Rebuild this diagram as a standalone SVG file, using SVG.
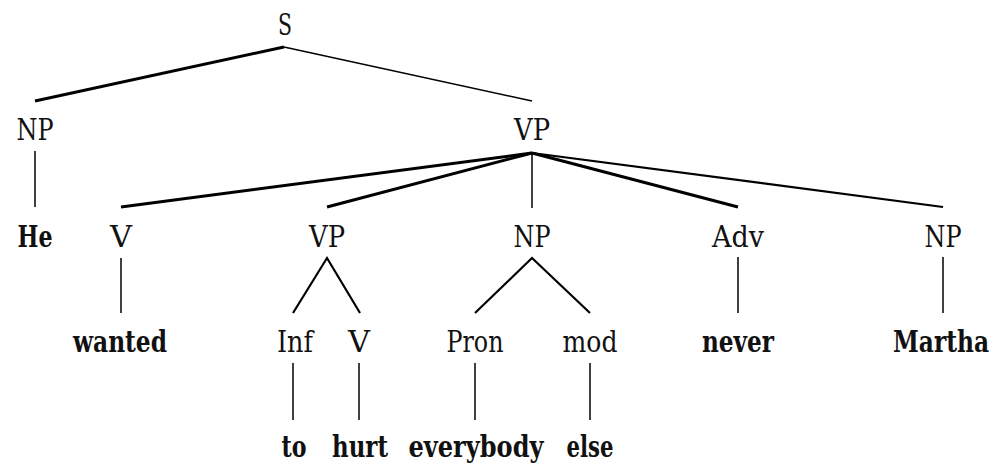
<svg xmlns="http://www.w3.org/2000/svg" width="999" height="467" viewBox="0 0 999 467">
<style>
text { font-family: "DejaVu Serif", "Liberation Serif", serif; font-size: 29px; fill: #111; text-anchor: middle; }
.b { font-weight: bold; }
.e line, .e polyline { stroke: #000; fill: none; stroke-linecap: butt; stroke-linejoin: miter; }
.t1 { stroke-width: 1.5; }
.t2 { stroke-width: 2.2; }
.t3 { stroke-width: 3; }
</style>
<rect width="999" height="467" fill="#fff"/>
<g id="connectors" class="e">
  <line class="t3" x1="284" y1="47" x2="35" y2="101"/>
  <line class="t1" x1="284" y1="47" x2="532" y2="101"/>
  <line class="t1" x1="35" y1="151" x2="35" y2="207"/>
  <line class="t3" x1="532" y1="153" x2="121" y2="207"/>
  <line class="t3" x1="532" y1="153" x2="327" y2="207"/>
  <line class="t1" x1="532" y1="153" x2="532" y2="208"/>
  <line class="t3" x1="532" y1="153" x2="738" y2="207"/>
  <line class="t2" x1="532" y1="153" x2="943" y2="207"/>
  <line class="t1" x1="121" y1="258" x2="121" y2="313"/>
  <polyline class="t2" points="293,313 327,258 360,313"/>
  <polyline class="t2" points="475,313 532,258 590,313"/>
  <line class="t1" x1="738" y1="257" x2="738" y2="313"/>
  <line class="t1" x1="943" y1="257" x2="943" y2="313"/>
  <line class="t1" x1="293" y1="363" x2="293" y2="420"/>
  <line class="t1" x1="359" y1="363" x2="359" y2="420"/>
  <line class="t1" x1="475" y1="363" x2="475" y2="420"/>
  <line class="t1" x1="590" y1="363" x2="590" y2="420"/>
</g>
<g id="n-S"><text x="285" y="35" textLength="14" lengthAdjust="spacingAndGlyphs">S</text></g>
<g id="n-NP1"><text x="35" y="140" textLength="37" lengthAdjust="spacingAndGlyphs">NP</text></g>
<g id="n-VP1"><text x="532" y="140" textLength="36" lengthAdjust="spacingAndGlyphs">VP</text></g>
<g id="n-He"><text class="b" x="35" y="247" textLength="35" lengthAdjust="spacingAndGlyphs">He</text></g>
<g id="n-V1"><text x="121" y="247" textLength="22" lengthAdjust="spacingAndGlyphs">V</text></g>
<g id="n-VP2"><text x="327" y="247" textLength="36" lengthAdjust="spacingAndGlyphs">VP</text></g>
<g id="n-NP2"><text x="532" y="247" textLength="37" lengthAdjust="spacingAndGlyphs">NP</text></g>
<g id="n-Adv"><text x="738" y="247" textLength="52" lengthAdjust="spacingAndGlyphs">Adv</text></g>
<g id="n-NP3"><text x="943" y="247" textLength="37" lengthAdjust="spacingAndGlyphs">NP</text></g>
<g id="n-wanted"><text class="b" x="120" y="352" textLength="94" lengthAdjust="spacingAndGlyphs">wanted</text></g>
<g id="n-Inf"><text x="295" y="352" textLength="36" lengthAdjust="spacingAndGlyphs">Inf</text></g>
<g id="n-V2"><text x="359" y="352" textLength="22" lengthAdjust="spacingAndGlyphs">V</text></g>
<g id="n-Pron"><text x="475" y="352" textLength="57" lengthAdjust="spacingAndGlyphs">Pron</text></g>
<g id="n-mod"><text x="590" y="352" textLength="55" lengthAdjust="spacingAndGlyphs">mod</text></g>
<g id="n-never"><text class="b" x="738" y="352" textLength="72" lengthAdjust="spacingAndGlyphs">never</text></g>
<g id="n-Martha"><text class="b" x="941" y="352" textLength="96" lengthAdjust="spacingAndGlyphs">Martha</text></g>
<g id="n-to"><text class="b" x="294" y="457" textLength="25" lengthAdjust="spacingAndGlyphs">to</text></g>
<g id="n-hurt"><text class="b" x="360" y="457" textLength="56" lengthAdjust="spacingAndGlyphs">hurt</text></g>
<g id="n-everybody"><text class="b" x="476" y="457" textLength="135" lengthAdjust="spacingAndGlyphs">everybody</text></g>
<g id="n-else"><text class="b" x="590" y="457" textLength="47" lengthAdjust="spacingAndGlyphs">else</text></g>
</svg>
